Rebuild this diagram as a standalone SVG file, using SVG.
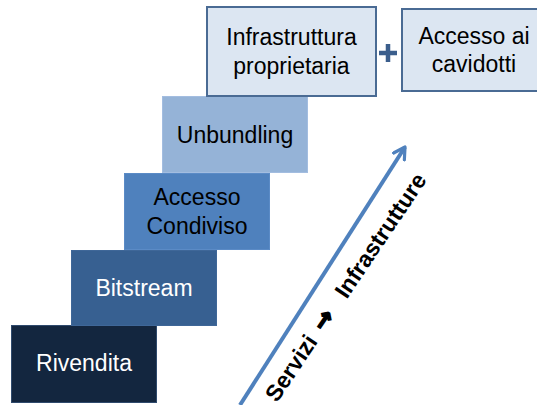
<svg xmlns="http://www.w3.org/2000/svg" width="537" height="405" viewBox="0 0 537 405">
<defs>
<style>
text{font-family:"Liberation Sans",Arial,sans-serif;font-size:23px;text-anchor:middle}
.dk{fill:#000}
.wt{fill:#fff}
.lt{fill:#dce6f2;stroke:#4a6b94;stroke-width:2}
.rl{font-weight:bold;fill:#000}
</style>
<marker id="ah" viewBox="0 0 10 10" refX="8" refY="5" markerWidth="4" markerHeight="4" orient="auto" markerUnits="strokeWidth">
<path d="M1,1 L8,5 L1,9" fill="none" stroke="#4f81bd" stroke-width="2" stroke-linecap="round" stroke-linejoin="round"/>
</marker>
</defs>
<rect width="537" height="405" fill="#fff"/>
<g id="rivendita">
<rect x="11.5" y="325.5" width="145" height="77" fill="#13263f" stroke="#2f4a6d" stroke-width="1"/>
<text class="wt" x="84" y="371">Rivendita</text>
</g>
<g id="bitstream">
<rect x="71.5" y="250.5" width="145" height="75" fill="#376091" stroke="#3f6798" stroke-width="1"/>
<text class="wt" x="144" y="296">Bitstream</text>
</g>
<g id="accesso-condiviso">
<rect x="124.5" y="173.5" width="145" height="76" fill="#4f81bd" stroke="#5b8bc6" stroke-width="1"/>
<text class="dk" x="197" y="205">Accesso</text>
<text class="dk" x="197" y="234">Condiviso</text>
</g>
<g id="unbundling">
<rect x="162.5" y="96.5" width="145" height="76" fill="#95b3d7" stroke="#a3bde0" stroke-width="1"/>
<text class="dk" x="235" y="143">Unbundling</text>
</g>
<g id="infrastruttura">
<rect class="lt" x="207" y="7" width="169" height="89"/>
<text class="dk" x="291.5" y="45">Infrastruttura</text>
<text class="dk" x="291.5" y="74">proprietaria</text>
</g>
<g id="plus">
<path d="M379,53 H397 M388,44 V62" stroke="#3b5e8c" stroke-width="4.5"/>
</g>
<g id="accesso-cavidotti">
<rect class="lt" x="402" y="9" width="144" height="82"/>
<text class="dk" x="474" y="44">Accesso ai</text>
<text class="dk" x="474" y="72">cavidotti</text>
</g>
<g id="connectors">
<line x1="240" y1="405" x2="405" y2="147" stroke="#4f81bd" stroke-width="4" marker-end="url(#ah)"/>
</g>
<g id="label" transform="translate(291,368) rotate(-56)">
<text class="rl" x="0" y="8">Servizi</text>
<text class="rl" x="58" y="8" style="font-family:'DejaVu Sans',sans-serif;font-size:24px;stroke:#000;stroke-width:1.6">→</text>
<text class="rl" x="160" y="8">Infrastrutture</text>
</g>
</svg>
